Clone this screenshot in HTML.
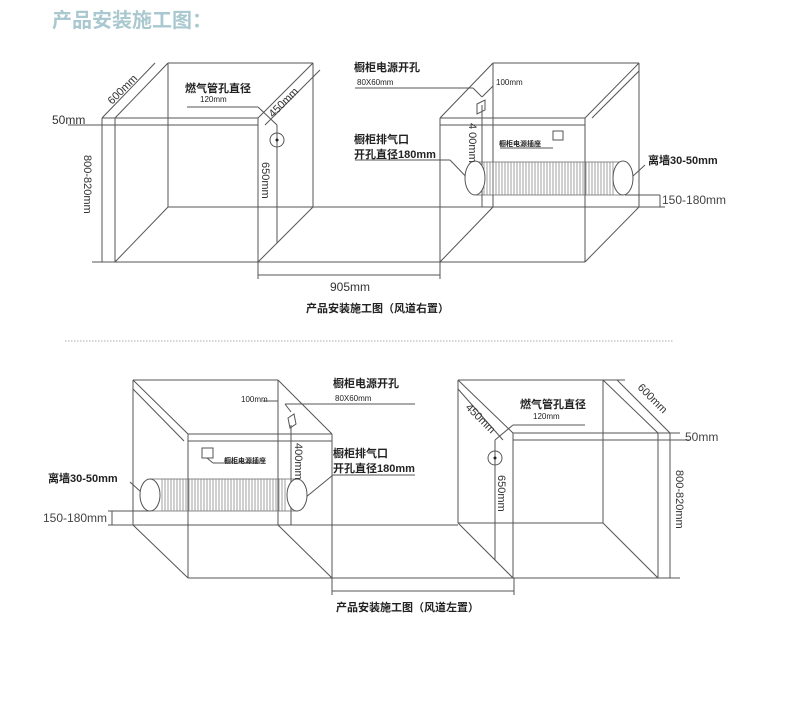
<!DOCTYPE html>
<html><head><meta charset="utf-8"><style>
html,body{margin:0;padding:0;background:#fff;}
svg{display:block;}
text{font-family:"Liberation Sans","Noto Sans CJK SC",sans-serif;fill:#222;}
.b{font-weight:bold;font-size:11px;}
.s{font-size:8px;}
.m{font-size:11px;fill:#333;}
</style></head><body>
<svg width="790" height="716" viewBox="0 0 790 716" xmlns="http://www.w3.org/2000/svg">
<text x="52" y="27" style="font-size:20px;font-weight:bold;fill:#a9c8cf;font-family:'Liberation Sans','Noto Sans CJK SC',sans-serif;">产品安装施工图：</text>

<g stroke="#555" stroke-width="1" fill="none">
<!-- TOP LEFT CABINET -->
<line x1="168" y1="63" x2="313" y2="63"/>
<line x1="155" y1="63" x2="102" y2="118"/>
<line x1="168" y1="63" x2="115" y2="118"/>
<line x1="102" y1="118" x2="258" y2="118"/>
<line x1="68" y1="125" x2="258" y2="125"/>
<line x1="258" y1="118" x2="313" y2="63"/>
<line x1="265" y1="125" x2="320" y2="70"/>
<line x1="258" y1="118" x2="258" y2="279"/>
<line x1="313" y1="63" x2="313" y2="207"/>
<line x1="168" y1="63" x2="168" y2="207"/>
<line x1="102" y1="118" x2="102" y2="262"/>
<line x1="115" y1="118" x2="115" y2="262"/>
<line x1="168" y1="207" x2="493" y2="207"/>
<line x1="92" y1="262" x2="440" y2="262"/>
<line x1="115" y1="262" x2="168" y2="207"/>
<line x1="258" y1="262" x2="313" y2="207"/>
<circle cx="277" cy="140" r="7"/>
<line x1="277" y1="125" x2="277" y2="243"/>
<line x1="187" y1="107" x2="258" y2="107"/>
<line x1="258" y1="107" x2="277" y2="125"/>
<line x1="258" y1="275" x2="440" y2="275"/>

<!-- TOP RIGHT CABINET -->
<line x1="493" y1="63" x2="639" y2="63"/>
<line x1="440" y1="118" x2="585" y2="118"/>
<line x1="440" y1="125" x2="585" y2="125"/>
<line x1="440" y1="118" x2="493" y2="63"/>
<line x1="585" y1="118" x2="639" y2="63"/>
<line x1="592" y1="118" x2="639" y2="71"/>
<line x1="440" y1="118" x2="440" y2="279"/>
<line x1="585" y1="118" x2="585" y2="262"/>
<line x1="639" y1="63" x2="639" y2="207"/>
<line x1="493" y1="63" x2="493" y2="207"/>
<line x1="482" y1="105" x2="482" y2="207"/>
<line x1="440" y1="262" x2="585" y2="262"/>
<line x1="440" y1="262" x2="493" y2="207"/>
<line x1="585" y1="262" x2="639" y2="207"/>
<line x1="493" y1="207" x2="665" y2="207"/>
<line x1="625" y1="195" x2="660" y2="195"/>
<line x1="660" y1="195" x2="660" y2="207"/>
<line x1="355" y1="88" x2="473" y2="88"/>
<line x1="473" y1="88" x2="482" y2="97"/>
<line x1="482" y1="97" x2="493" y2="86"/>
<polygon points="477,104 485,100 485,110 477,114"/>
<line x1="355" y1="160" x2="450" y2="160"/>
<line x1="450" y1="160" x2="474" y2="185"/>
<line x1="645" y1="165" x2="633" y2="176"/>
<rect x="553" y="131" width="10" height="9"/>
<line x1="500" y1="148" x2="553" y2="148"/>
</g>
<!-- top pipe -->
<g stroke="#666" stroke-width="0.8" fill="none">
<line x1="476" y1="162" x2="623" y2="162"/>
<line x1="476" y1="195" x2="623" y2="195"/>
</g>
<g stroke="#777" stroke-width="0.7">
<path d="M484 162V195M487 162V195M490 162V195M493 162V195M496 162V195M499 162V195M502 162V195M505 162V195M508 162V195M511 162V195M514 162V195M517 162V195M520 162V195M523 162V195M526 162V195M529 162V195M532 162V195M535 162V195M538 162V195M541 162V195M544 162V195M547 162V195M550 162V195M553 162V195M556 162V195M559 162V195M562 162V195M565 162V195M568 162V195M571 162V195M574 162V195M577 162V195M580 162V195M583 162V195M586 162V195M589 162V195M592 162V195M595 162V195M598 162V195M601 162V195M604 162V195M607 162V195M610 162V195M613 162V195"/>
</g>
<g stroke="#555" stroke-width="1" fill="#fff">
<ellipse cx="475" cy="178" rx="10" ry="17"/>
<ellipse cx="623" cy="178" rx="10" ry="17"/>
</g>
<circle cx="277" cy="140" r="1.5" fill="#222"/>

<!-- top texts -->
<text x="52" y="124" style="font-size:12px;fill:#333">50mm</text>
<text class="m" transform="translate(112,105) rotate(-45)">600mm</text>
<text class="m" transform="translate(84,155) rotate(90)">800-820mm</text>
<text class="m" transform="translate(273,118) rotate(-45)">450mm</text>
<text class="m" transform="translate(262,162) rotate(90)">650mm</text>
<text class="b" x="185" y="92">燃气管孔直径</text>
<text class="s" x="200" y="102">120mm</text>
<text x="330" y="291" style="font-size:12px;fill:#333">905mm</text>
<text class="b" x="306" y="312">产品安装施工图（风道右置）</text>
<text class="b" x="354" y="71">橱柜电源开孔</text>
<text class="s" x="357" y="85">80X60mm</text>
<text class="s" x="496" y="85">100mm</text>
<text class="m" transform="translate(469,123) rotate(90)">4 00mm</text>
<text class="b" x="354" y="143">橱柜排气口</text>
<text class="b" x="354" y="158">开孔直径180mm</text>
<text style="font-size:7px;font-weight:bold" x="499" y="146">橱柜电源插座</text>
<text class="b" x="648" y="164">离墙30-50mm</text>
<text x="662" y="204" style="font-size:12px;fill:#444">150-180mm</text>

<!-- dotted separator -->
<line x1="65" y1="341" x2="673" y2="341" stroke="#aaa" stroke-width="1" stroke-dasharray="1.5,1.5"/>

<!-- BOTTOM LEFT CABINET -->
<g stroke="#555" stroke-width="1" fill="none">
<line x1="133" y1="380" x2="278" y2="380"/>
<line x1="188" y1="434" x2="332" y2="434"/>
<line x1="188" y1="441" x2="332" y2="441"/>
<line x1="133" y1="380" x2="188" y2="434"/>
<line x1="133" y1="389" x2="184" y2="441"/>
<line x1="278" y1="380" x2="332" y2="434"/>
<line x1="133" y1="380" x2="133" y2="525"/>
<line x1="188" y1="434" x2="188" y2="578"/>
<line x1="278" y1="380" x2="278" y2="525"/>
<line x1="291" y1="425" x2="291" y2="525"/>
<line x1="332" y1="434" x2="332" y2="595"/>
<line x1="108" y1="525" x2="458" y2="525"/>
<line x1="188" y1="578" x2="514" y2="578"/>
<line x1="133" y1="525" x2="188" y2="578"/>
<line x1="278" y1="525" x2="332" y2="578"/>
<line x1="332" y1="591" x2="514" y2="591"/>
<line x1="514" y1="578" x2="514" y2="595"/>
<line x1="108" y1="511" x2="150" y2="511"/>
<line x1="112" y1="511" x2="112" y2="525"/>
<line x1="285" y1="404" x2="415" y2="404"/>
<line x1="285" y1="404" x2="291" y2="412"/>
<polygon points="288,418 294,414 296,424 290,428"/>
<line x1="333" y1="475" x2="415" y2="475"/>
<line x1="333" y1="475" x2="300" y2="502"/>
<line x1="130" y1="482" x2="141" y2="492"/>
<rect x="202" y="448" width="11" height="10"/>
<line x1="207" y1="458" x2="213" y2="463"/>
<line x1="213" y1="463" x2="258" y2="463"/>
<line x1="263" y1="401" x2="278" y2="401"/>

<!-- BOTTOM RIGHT CABINET -->
<line x1="458" y1="380" x2="625" y2="380"/>
<line x1="513" y1="433" x2="680" y2="433"/>
<line x1="513" y1="440" x2="690" y2="440"/>
<line x1="458" y1="380" x2="513" y2="433"/>
<line x1="458" y1="389" x2="503" y2="440"/>
<line x1="603" y1="380" x2="658" y2="433"/>
<line x1="617" y1="380" x2="670" y2="433"/>
<line x1="458" y1="380" x2="458" y2="523"/>
<line x1="513" y1="433" x2="513" y2="578"/>
<line x1="603" y1="380" x2="603" y2="523"/>
<line x1="658" y1="433" x2="658" y2="578"/>
<line x1="670" y1="433" x2="670" y2="578"/>
<line x1="458" y1="523" x2="603" y2="523"/>
<line x1="514" y1="578" x2="680" y2="578"/>
<line x1="458" y1="523" x2="513" y2="578"/>
<line x1="603" y1="523" x2="658" y2="578"/>
<circle cx="495" cy="458" r="7"/>
<line x1="495" y1="440" x2="495" y2="560"/>
<line x1="495" y1="440" x2="513" y2="425"/>
<line x1="513" y1="425" x2="585" y2="425"/>
</g>
<circle cx="495" cy="458" r="1.5" fill="#222"/>
<!-- bottom pipe -->
<g stroke="#666" stroke-width="0.8" fill="none">
<line x1="150" y1="479" x2="297" y2="479"/>
<line x1="150" y1="511" x2="297" y2="511"/>
</g>
<g stroke="#777" stroke-width="0.7">
<path d="M162 479V511M165 479V511M168 479V511M171 479V511M174 479V511M177 479V511M180 479V511M183 479V511M186 479V511M189 479V511M192 479V511M195 479V511M198 479V511M201 479V511M204 479V511M207 479V511M210 479V511M213 479V511M216 479V511M219 479V511M222 479V511M225 479V511M228 479V511M231 479V511M234 479V511M237 479V511M240 479V511M243 479V511M246 479V511M249 479V511M252 479V511M255 479V511M258 479V511M261 479V511M264 479V511M267 479V511M270 479V511M273 479V511M276 479V511M279 479V511M282 479V511M285 479V511"/>
</g>
<g stroke="#555" stroke-width="1" fill="#fff">
<ellipse cx="150" cy="495" rx="10" ry="16"/>
<ellipse cx="297" cy="495" rx="10" ry="16"/>
</g>

<!-- bottom texts -->
<text class="b" x="48" y="482">离墙30-50mm</text>
<text x="43" y="522" style="font-size:12px;fill:#444">150-180mm</text>
<text class="s" x="241" y="402">100mm</text>
<text class="b" x="333" y="387">橱柜电源开孔</text>
<text class="s" x="335" y="401">80X60mm</text>
<text class="m" transform="translate(295,443) rotate(90)">400mm</text>
<text class="b" x="333" y="457">橱柜排气口</text>
<text class="b" x="333" y="472">开孔直径180mm</text>
<text style="font-size:7px;font-weight:bold" x="224" y="463">橱柜电源插座</text>
<text class="b" x="336" y="611">产品安装施工图（风道左置）</text>
<text class="b" x="520" y="408">燃气管孔直径</text>
<text class="s" x="533" y="419">120mm</text>
<text class="m" transform="translate(465,408) rotate(45)">450mm</text>
<text class="m" transform="translate(637,388) rotate(45)">600mm</text>
<text x="685" y="441" style="font-size:12px;fill:#444">50mm</text>
<text class="m" transform="translate(676,470) rotate(90)">800-820mm</text>
<text class="m" transform="translate(498,475) rotate(90)">650mm</text>
</svg>
</body></html>
